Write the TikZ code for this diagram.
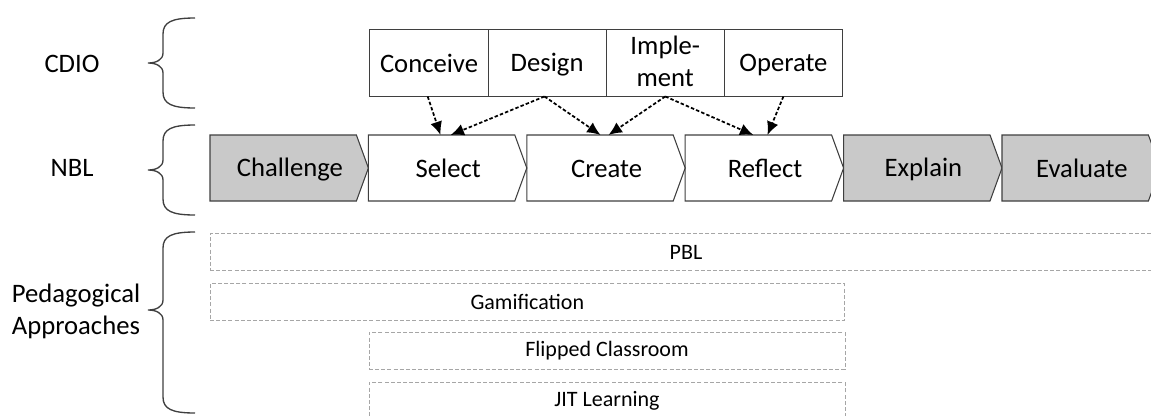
\documentclass[tikz,border=0pt]{standalone}
\usepackage{fontspec}
\setmainfont{Carlito}
\usepackage{xcolor}
\usepackage{tikz}
\usetikzlibrary{shapes.symbols, arrows.meta, positioning}

\definecolor{phasegray}{HTML}{C9C9C9}
\definecolor{edgegray}{HTML}{3F3F3F}
\definecolor{dashgray}{HTML}{A6A6A6}

% curly brace opening to the right: top, tip, bottom (px)
\newcommand{\sidebrace}[3]{%
  \draw[brace] (195,#1) .. controls (172,#1) and (163,#1+4) .. (163,#1+16) -- (163,#2-10)
    .. controls (163,#2-3) and (156,#2) .. (148,#2)
    .. controls (156,#2) and (163,#2+3) .. (163,#2+10) -- (163,#3-16)
    .. controls (163,#3-4) and (172,#3) .. (195,#3);}
% fixed line height for one-line labels
\newcommand{\labelrule}{\rule[-2.5pt]{0pt}{18.5pt}}

\begin{document}
\begin{tikzpicture}[x=0.75pt, y=-0.75pt, node distance=0pt, >={Latex[length=10pt,width=9pt]}, font=\fontsize{20}{24}\selectfont]
    \tikzstyle{cdiobox} = [draw=edgegray, rectangle, align=center, minimum width=88.6pt, minimum height=50.2pt, inner sep=0pt, outer sep=0pt, line width=0.8pt, execute at begin node=\labelrule]
    \tikzstyle{phase} = [draw=edgegray, shape=signal, signal to=east, signal pointer angle=140, minimum width=118.8pt, minimum height=49.5pt, inner sep=0pt, outer sep=0pt, line width=0.8pt, execute at begin node={\hspace{10pt}\labelrule}]
    \tikzstyle{grayphase} = [phase, fill=phasegray]
    \tikzstyle{approach} = [draw=dashgray, rectangle, dash pattern=on 3pt off 1.6pt, line width=0.6pt, minimum height=27.5pt, inner sep=0pt, outer sep=0pt, anchor=west, font=\fontsize{16.5}{19.8}\selectfont]
    \tikzstyle{flow} = [->, line width=1.3pt, dash pattern=on 2.6pt off 1.6pt]
    \tikzstyle{brace} = [draw=edgegray, line width=1pt]

    \useasboundingbox (0,0) rectangle (1151,415);
    \clip (0,0) rectangle (1151,415);

    % row labels
    \node (cdiolabel) at (72,64) {CDIO};
    \node (nbllabel) at (72,168) {NBL};
    \node [align=left] (pedlabel) at (76,311) {Pedagogical\\Approaches};
    \sidebrace{18}{63}{108}
    \sidebrace{125}{170}{215}
    \sidebrace{232}{310}{413}

    % CDIO
    \node [cdiobox] (conceive) at (429,63) {Conceive};
    \node [cdiobox, right=of conceive] (design) {Design};
    \node [cdiobox, right=of design, execute at begin node={}] (implement) {Imple-\\ment};
    \node [cdiobox, right=of implement] (operate) {Operate};

    % NBL phases
    \node [grayphase, anchor=west] (challenge) at (210,168) {Challenge};
    \node [phase, right=of challenge] (select) {Select};
    \node [phase, right=of select] (create) {Create};
    \node [phase, right=of create] (reflect) {Reflect};
    \node [grayphase, right=of reflect] (explain) {Explain};
    \node [grayphase, right=of explain] (evaluate) {Evaluate};

    % pedagogical approaches
    \node [approach, minimum width=714pt] (pbl) at (210,252) {PBL};
    \node [approach, minimum width=476pt] (gamification) at (210,302) {Gamification};
    \node [approach, minimum width=357pt] (flipped) at (369,351) {Flipped Classroom};
    \node [approach, minimum width=357pt] (jit) at (369,401) {JIT Learning};

    \draw [flow] ([xshift=-1pt]conceive.south) -- ([xshift=-0.8pt]select.north);
    \draw [flow] ([xshift=-2pt]design.south) -- ([xshift=6.8pt]select.north);
    \draw [flow] ([xshift=-2pt]design.south) -- ([xshift=0.4pt]create.north);
    \draw [flow] (implement.south) -- ([xshift=6.4pt]create.north);
    \draw [flow] (implement.south) -- ([xshift=-3.8pt]reflect.north);
    \draw [flow] (operate.south) -- ([xshift=6.8pt]reflect.north);
\end{tikzpicture}
\end{document}
